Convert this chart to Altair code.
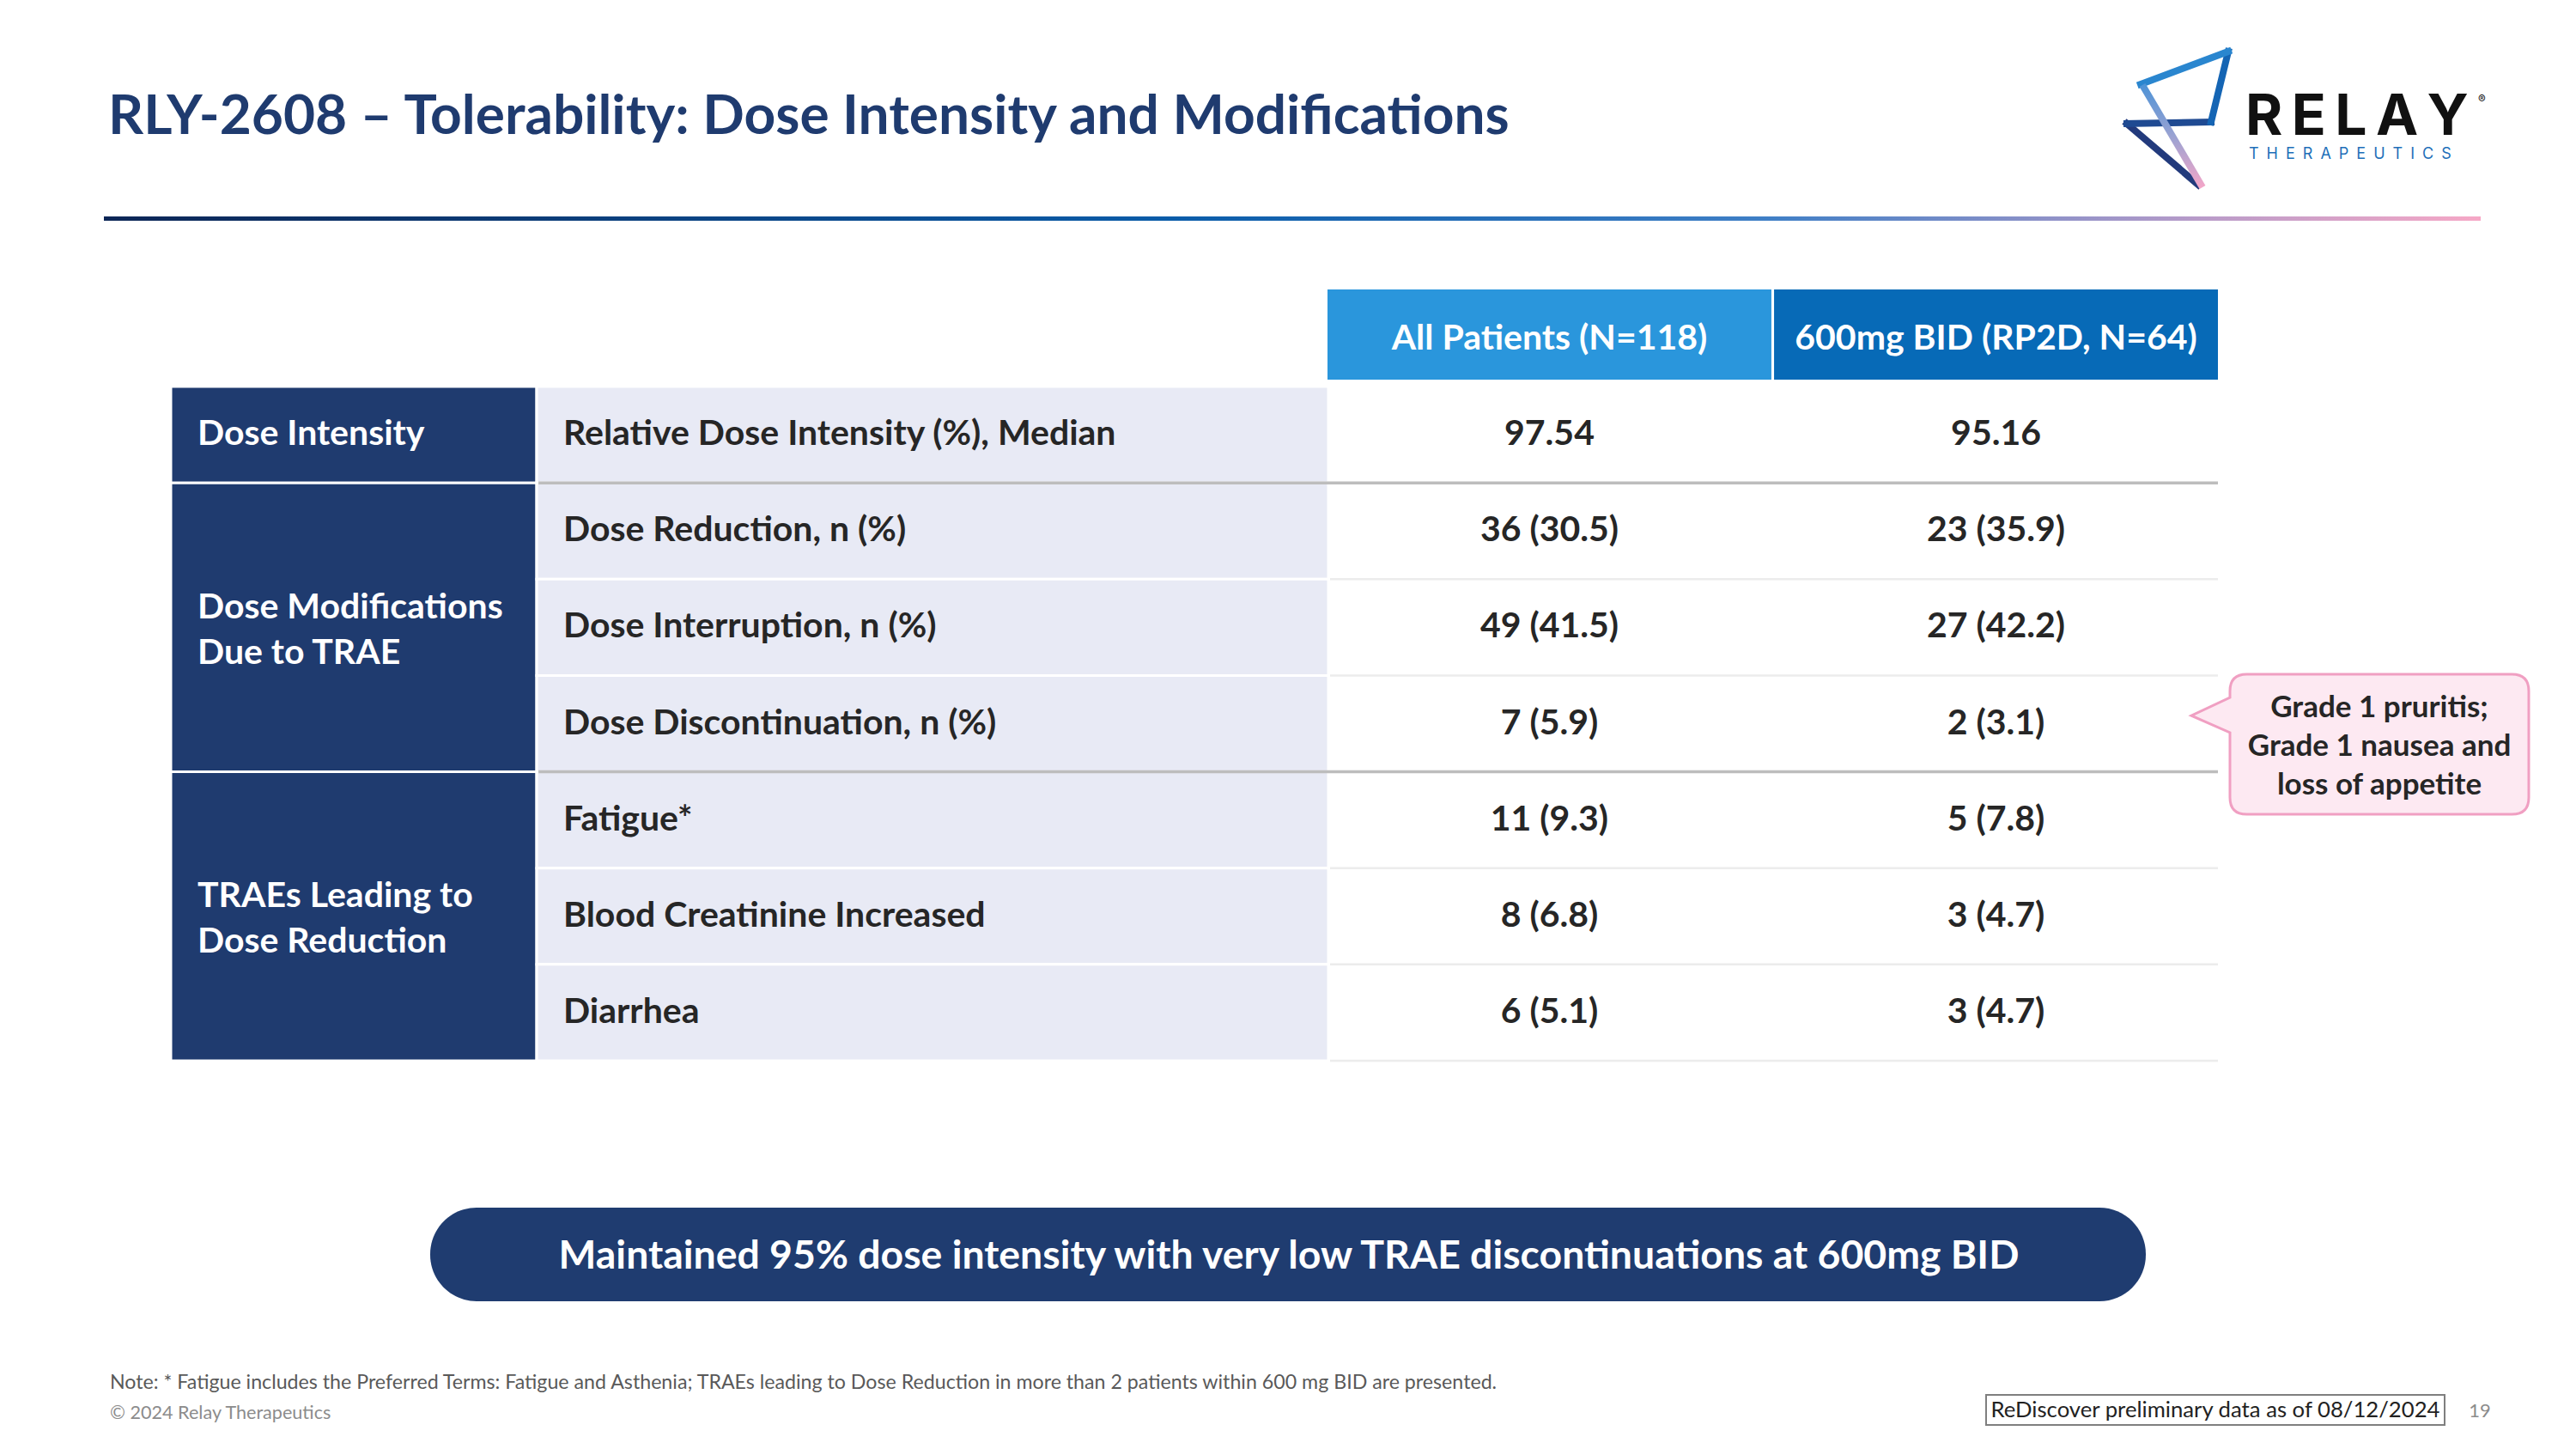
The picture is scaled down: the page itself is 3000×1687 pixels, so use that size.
import altair as alt
import pandas as pd

# ---------------- data ----------------
title_text = "RLY-2608 \u2013 Tolerability: Dose Intensity and Modifications"
arms = ["All Patients (N=118)", "600mg BID (RP2D, N=64)"]
row_labels = [
    "Relative Dose Intensity (%), Median",
    "Dose Reduction, n (%)",
    "Dose Interruption, n (%)",
    "Dose Discontinuation, n (%)",
    "Fatigue*",
    "Blood Creatinine Increased",
    "Diarrhea",
]
row_groups = [
    "Dose Intensity",
    "Dose Modifications\nDue to TRAE",
    "Dose Modifications\nDue to TRAE",
    "Dose Modifications\nDue to TRAE",
    "TRAEs Leading to\nDose Reduction",
    "TRAEs Leading to\nDose Reduction",
    "TRAEs Leading to\nDose Reduction",
]
all_patients_values = ["97.54", "36 (30.5)", "49 (41.5)", "7 (5.9)", "11 (9.3)", "8 (6.8)", "6 (5.1)"]
rp2d_values = ["95.16", "23 (35.9)", "27 (42.2)", "2 (3.1)", "5 (7.8)", "3 (4.7)", "3 (4.7)"]
callout_text = "Grade 1 pruritis;\nGrade 1 nausea and\nloss of appetite"
banner_text = "Maintained 95% dose intensity with very low TRAE discontinuations at 600mg BID"
note_text = ("Note: * Fatigue includes the Preferred Terms: Fatigue and Asthenia; TRAEs leading to "
             "Dose Reduction in more than 2 patients within 600 mg BID are presented.")
copyright_text = "\u00a9 2024 Relay Therapeutics"
data_cut_text = "ReDiscover preliminary data as of 08/12/2024"
page_number = "19"
logo_word = "RELAY"
logo_sub = "THERAPEUTICS"

# ---------------- tables built from the data ----------------
n = len(row_labels)
rows = pd.DataFrame({
    "row": list(range(n)),
    "label": row_labels,
    "group": row_groups,
})
rows["row_end"] = rows["row"] + 1
rows["mid"] = rows["row"] + 0.5

groups = rows.groupby("group", sort=False).agg(start=("row", "min"), end=("row_end", "max")).reset_index()
groups["mid"] = (groups["start"] + groups["end"]) / 2
groups["nlines"] = groups["group"].str.count("\n") + 1

vals = pd.concat([
    pd.DataFrame({"row": rows["row"], "mid": rows["mid"], "arm": arms[0], "value": all_patients_values}),
    pd.DataFrame({"row": rows["row"], "mid": rows["mid"], "arm": arms[1], "value": rp2d_values}),
], ignore_index=True)

bnd = []
for i in range(n):
    last = i == n - 1
    kind = "row" if last or row_groups[i] == row_groups[i + 1] else "group"
    bnd.append({"y": i + 1, "kind": kind})
bounds = pd.DataFrame(bnd)
header = pd.DataFrame({"arm": arms})
one = pd.DataFrame({"k": [0]})

# ---------------- layout / style ----------------
M = 8  # page margin
def px(v):
    return v - M

def spaced(word, sep):
    return sep.join(list(word))

FONT = "Lato"
NAVY = "#1f3b6f"
TXT = "#262626"
GROUP_LH = 53

yscale = alt.Scale(domain=[0, n], range=[px(450), px(1235)], nice=False, zero=False)
xarm = alt.Scale(domain=arms, range=[px(1546), px(2583)], paddingInner=0.006, paddingOuter=0)

layers = []

# gradient rule under title
layers.append(alt.Chart(one).mark_rect(
    color=alt.LinearGradient(
        gradient="linear", x1=0, x2=1, y1=0, y2=0,
        stops=[alt.GradientStop(color="#0c2656", offset=0),
               alt.GradientStop(color="#0a5ca9", offset=0.45),
               alt.GradientStop(color="#3f7fc6", offset=0.7),
               alt.GradientStop(color="#b79bc9", offset=0.88),
               alt.GradientStop(color="#f6a8c6", offset=1)])
).encode(x=alt.value(px(121)), x2=alt.value(px(2889)), y=alt.value(px(252)), y2=alt.value(px(257))))

# title
layers.append(alt.Chart(one).mark_text(
    align="left", baseline="middle", font=FONT, fontWeight="bold", fontSize=64, color=NAVY
).encode(x=alt.value(px(126)), y=alt.value(px(137)), text=alt.value(title_text)))

# logo icon
def seg(x1, y1, x2, y2, color):
    return alt.Chart(one).mark_rule(strokeWidth=8, strokeCap="square", color=color).encode(
        x=alt.value(px(x1)), y=alt.value(px(y1)), x2=alt.value(px(x2)), y2=alt.value(px(y2)))

layers.append(seg(2477, 144, 2560, 215, "#223a7c"))
layers.append(seg(2575, 142, 2477, 144, "#1f4a92"))
layers.append(seg(2595, 60, 2575, 142, "#1565b4"))
layers.append(seg(2595, 60, 2493, 98, "#2a86cf"))
layers.append(alt.Chart(one).mark_rule(
    strokeWidth=8, strokeCap="butt",
    color=alt.LinearGradient(gradient="linear", x1=0, x2=0, y1=0, y2=1,
                             stops=[alt.GradientStop(color="#4f93d6", offset=0),
                                    alt.GradientStop(color="#9aa2d2", offset=0.5),
                                    alt.GradientStop(color="#f3a6c8", offset=1)])
).encode(x=alt.value(px(2495)), y=alt.value(px(99)), x2=alt.value(px(2565)), y2=alt.value(px(218))))

layers.append(alt.Chart(one).mark_text(
    align="left", baseline="alphabetic", font="Inter", fontWeight=700, fontSize=66, color="#111111"
).encode(x=alt.value(px(2615)), y=alt.value(px(157)), text=alt.value(spaced(logo_word, "\u2009"))))
layers.append(alt.Chart(one).mark_text(
    align="left", baseline="middle", font="Inter", fontSize=13, color="#111111"
).encode(x=alt.value(px(2886)), y=alt.value(px(116)), text=alt.value("\u00ae")))
layers.append(alt.Chart(one).mark_text(
    align="left", baseline="middle", font="Inter", fontSize=18, color="#1e6fb9"
).encode(x=alt.value(px(2619)), y=alt.value(px(180)), text=alt.value(spaced(logo_sub, "\u2002"))))

# header cells
layers.append(alt.Chart(header).mark_rect().encode(
    x=alt.X("arm:N", scale=xarm, axis=None),
    y=alt.value(px(337)), y2=alt.value(px(442)),
    color=alt.Color("arm:N", scale=alt.Scale(domain=arms, range=["#2a96dc", "#076ab7"]), legend=None),
))
layers.append(alt.Chart(header).mark_text(
    font=FONT, fontWeight="bold", fontSize=41, color="white", baseline="middle"
).encode(x=alt.X("arm:N", scale=xarm, axis=None), y=alt.value(px(395)), text="arm:N"))

# group column
layers.append(alt.Chart(groups).mark_rect(color=NAVY, stroke="white", strokeWidth=3).encode(
    x=alt.value(px(199)), x2=alt.value(px(625)),
    y=alt.Y("start:Q", scale=yscale, axis=None), y2="end:Q"))
for k in sorted(groups["nlines"].unique()):
    shift = -(k - 1) * GROUP_LH / 2 + (4 if k > 1 else 0)
    layers.append(alt.Chart(groups).transform_filter(f"datum.nlines == {k}").mark_text(
        align="left", baseline="middle", font=FONT, fontWeight="bold", fontSize=41,
        color="white", lineBreak="\n", lineHeight=GROUP_LH, dy=shift
    ).encode(x=alt.value(px(230)), y=alt.Y("mid:Q", scale=yscale, axis=None), text="group:N"))

# label column
layers.append(alt.Chart(rows).mark_rect(color="#e8eaf5", stroke="white", strokeWidth=3).encode(
    x=alt.value(px(625)), x2=alt.value(px(1547)),
    y=alt.Y("row:Q", scale=yscale, axis=None), y2="row_end:Q"))
layers.append(alt.Chart(rows).mark_text(
    align="left", baseline="middle", font=FONT, fontWeight="bold", fontSize=41, color=TXT
).encode(x=alt.value(px(656)), y=alt.Y("mid:Q", scale=yscale, axis=None), text="label:N"))

# separators
layers.append(alt.Chart(bounds).transform_filter("datum.kind == 'row'").mark_rule(
    color="#ececec", strokeWidth=2.5
).encode(x=alt.value(px(1549)), x2=alt.value(px(2583)), y=alt.Y("y:Q", scale=yscale, axis=None)))
layers.append(alt.Chart(bounds).transform_filter("datum.kind == 'group'").mark_rule(
    color="#bdbdbd", strokeWidth=3.5
).encode(x=alt.value(px(627)), x2=alt.value(px(2583)), y=alt.Y("y:Q", scale=yscale, axis=None)))

# values
layers.append(alt.Chart(vals).mark_text(
    baseline="middle", font=FONT, fontWeight="bold", fontSize=41, color=TXT
).encode(x=alt.X("arm:N", scale=xarm, axis=None), y=alt.Y("mid:Q", scale=yscale, axis=None), text="value:N"))

# callout bubble
bubble = ("M -0.671 -0.415 L 0.9 -0.415 Q 1 -0.415 1 -0.315 L 1 0.315 Q 1 0.415 0.9 0.415 "
          "L -0.671 0.415 Q -0.771 0.415 -0.771 0.315 L -0.771 -0.069 L -1 -0.170 "
          "L -0.771 -0.277 L -0.771 -0.315 Q -0.771 -0.415 -0.671 -0.415 Z")
layers.append(alt.Chart(one).mark_point(
    shape=bubble, size=(2 * 196.5) ** 2, filled=True, color="#fde9f2", opacity=1
).encode(x=alt.value(px(2748.5)), y=alt.value(px(866.5))))
layers.append(alt.Chart(one).mark_point(
    shape=bubble, size=(2 * 196.5) ** 2, filled=False, color="#f09fc2", strokeWidth=3, opacity=1
).encode(x=alt.value(px(2748.5)), y=alt.value(px(866.5))))
layers.append(alt.Chart(one).mark_text(
    align="center", baseline="middle", font=FONT, fontWeight="bold", fontSize=35,
    color=TXT, lineBreak="\n", lineHeight=45
).encode(x=alt.value(px(2771)), y=alt.value(px(824)), text=alt.value(callout_text)))

# banner
layers.append(alt.Chart(one).mark_rect(color="#1f3c70", cornerRadius=54).encode(
    x=alt.value(px(501)), x2=alt.value(px(2499)), y=alt.value(px(1406)), y2=alt.value(px(1515))))
layers.append(alt.Chart(one).mark_text(
    align="center", baseline="middle", font=FONT, fontWeight="bold", fontSize=46.4, color="white"
).encode(x=alt.value(px(1501)), y=alt.value(px(1463)), text=alt.value(banner_text)))

# footer
layers.append(alt.Chart(one).mark_text(
    align="left", baseline="middle", font=FONT, fontSize=23.2, color="#595959"
).encode(x=alt.value(px(128)), y=alt.value(px(1610)), text=alt.value(note_text)))
layers.append(alt.Chart(one).mark_text(
    align="left", baseline="middle", font=FONT, fontSize=21.6, color="#8c8c8c"
).encode(x=alt.value(px(128)), y=alt.value(px(1646)), text=alt.value(copyright_text)))
layers.append(alt.Chart(one).mark_rect(fill="white", stroke="#7f7f7f", strokeWidth=2).encode(
    x=alt.value(px(2313)), x2=alt.value(px(2847)), y=alt.value(px(1624)), y2=alt.value(px(1659))))
layers.append(alt.Chart(one).mark_text(
    align="center", baseline="middle", font=FONT, fontSize=25.7, color="#222222"
).encode(x=alt.value(px(2580)), y=alt.value(px(1642)), text=alt.value(data_cut_text)))
layers.append(alt.Chart(one).mark_text(
    align="center", baseline="middle", font=FONT, fontSize=22, color="#8c8c8c"
).encode(x=alt.value(px(2888)), y=alt.value(px(1643)), text=alt.value(page_number)))

chart = alt.layer(*layers).properties(
    width=3000 - 2 * M, height=1687 - 2 * M,
    autosize=alt.AutoSizeParams(type="none"), padding=0, background="white",
).configure_view(stroke=None)

chart.save("out.html", embed_options={"renderer": "svg", "actions": False})
